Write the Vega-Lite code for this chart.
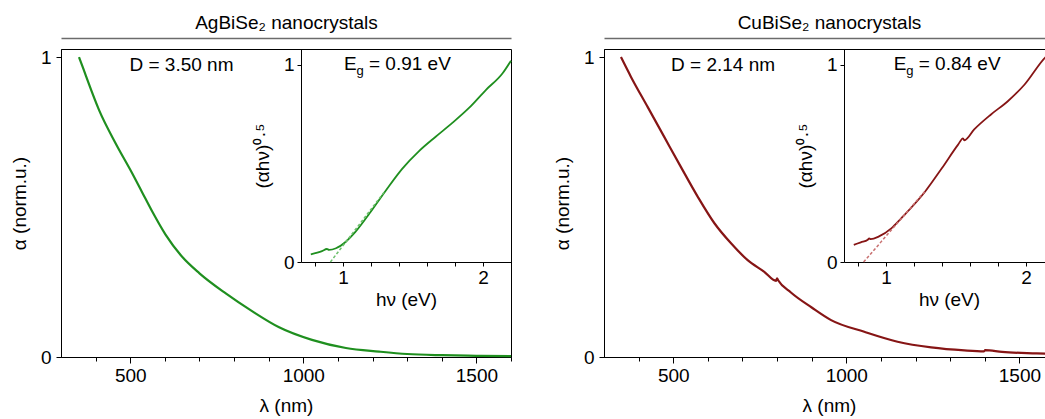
{
  "$schema": "https://vega.github.io/schema/vega-lite/v6.json",
  "padding": {"left": 9, "top": 12, "right": 0, "bottom": 0},
  "datasets": {
    "agMain": [
      {"wl": 352, "a": 1.0}, {"wl": 365, "a": 0.96}, {"wl": 380, "a": 0.912}, {"wl": 410, "a": 0.823},
      {"wl": 458, "a": 0.712}, {"wl": 506, "a": 0.612}, {"wl": 535, "a": 0.548}, {"wl": 564, "a": 0.484},
      {"wl": 602, "a": 0.408}, {"wl": 650, "a": 0.334}, {"wl": 700, "a": 0.279}, {"wl": 776, "a": 0.212},
      {"wl": 853, "a": 0.152}, {"wl": 930, "a": 0.099}, {"wl": 1025, "a": 0.057}, {"wl": 1123, "a": 0.03},
      {"wl": 1219, "a": 0.018}, {"wl": 1300, "a": 0.01}, {"wl": 1400, "a": 0.006}, {"wl": 1500, "a": 0.004},
      {"wl": 1600, "a": 0.003}
    ],
    "agInset": [
      {"hv": 0.77, "y": 0.039}, {"hv": 0.85, "y": 0.055}, {"hv": 0.885, "y": 0.066}, {"hv": 0.9, "y": 0.062},
      {"hv": 0.95, "y": 0.07}, {"hv": 1.02, "y": 0.103}, {"hv": 1.09, "y": 0.154}, {"hv": 1.19, "y": 0.247},
      {"hv": 1.305, "y": 0.362}, {"hv": 1.424, "y": 0.474}, {"hv": 1.543, "y": 0.563}, {"hv": 1.662, "y": 0.636},
      {"hv": 1.781, "y": 0.706}, {"hv": 1.9, "y": 0.782}, {"hv": 2.02, "y": 0.873}, {"hv": 2.14, "y": 0.958},
      {"hv": 2.2, "y": 1.022}
    ],
    "agFit": [{"hv": 0.91, "y": 0}, {"hv": 1.3, "y": 0.36}],
    "agText": [{"wl": 648, "a": 0.973, "label": "D = 3.50 nm"}],
    "agEg": [{"hv": 1.007, "y": 1.005, "label": "= 0.91 eV"}],
    "cuMain": [
      {"wl": 349, "a": 1.0}, {"wl": 378, "a": 0.934}, {"wl": 426, "a": 0.834}, {"wl": 474, "a": 0.734},
      {"wl": 522, "a": 0.634}, {"wl": 571, "a": 0.534}, {"wl": 619, "a": 0.446}, {"wl": 667, "a": 0.379},
      {"wl": 715, "a": 0.323}, {"wl": 763, "a": 0.284}, {"wl": 797, "a": 0.254}, {"wl": 800, "a": 0.262},
      {"wl": 803, "a": 0.256}, {"wl": 840, "a": 0.215}, {"wl": 900, "a": 0.165}, {"wl": 956, "a": 0.123},
      {"wl": 1052, "a": 0.084}, {"wl": 1148, "a": 0.051}, {"wl": 1245, "a": 0.032}, {"wl": 1341, "a": 0.022},
      {"wl": 1398, "a": 0.019}, {"wl": 1401, "a": 0.023}, {"wl": 1450, "a": 0.017}, {"wl": 1550, "a": 0.012},
      {"wl": 1600, "a": 0.01}
    ],
    "cuInset": [
      {"hv": 0.77, "y": 0.087}, {"hv": 0.82, "y": 0.1}, {"hv": 0.87, "y": 0.113}, {"hv": 0.88, "y": 0.12},
      {"hv": 0.89, "y": 0.116}, {"hv": 0.95, "y": 0.13}, {"hv": 1.04, "y": 0.172}, {"hv": 1.11, "y": 0.223},
      {"hv": 1.28, "y": 0.358}, {"hv": 1.4, "y": 0.477}, {"hv": 1.515, "y": 0.596}, {"hv": 1.55, "y": 0.628},
      {"hv": 1.56, "y": 0.618}, {"hv": 1.63, "y": 0.673}, {"hv": 1.75, "y": 0.749}, {"hv": 1.87, "y": 0.816},
      {"hv": 1.99, "y": 0.901}, {"hv": 2.14, "y": 1.04}, {"hv": 2.2, "y": 1.075}
    ],
    "cuFit": [{"hv": 0.84, "y": 0}, {"hv": 1.28, "y": 0.36}],
    "cuText": [{"wl": 644, "a": 0.973, "label": "D = 2.14 nm"}],
    "cuEg": [{"hv": 1.055, "y": 1.005, "label": "= 0.84 eV"}]
  },
  "hconcat": [
    {
      "width": 450, "height": 308,
      "layer": [
        {
          "data": {"name": "agMain"},
          "mark": {"type": "line", "color": "#1f8f1f", "strokeWidth": 2.2, "interpolate": "monotone"},
          "encoding": {
            "x": {"field": "wl", "type": "quantitative",
              "scale": {"domain": [300, 1600], "nice": false, "zero": false},
              "axis": {"orient": "bottom", "title": "λ (nm)", "values": [400, 500, 600, 700, 800, 900, 1000, 1100, 1200, 1300, 1400, 1500, 1600],
                "format": "d", "labelExpr": "datum.value % 500 === 0 ? datum.label : ''",
                "tickSize": {"condition": {"test": "datum.value % 500 === 0", "value": 6}, "value": 4},
                "labelPadding": 3, "titlePadding": 11, "labelFlush": false, "labelOverlap": false}},
            "y": {"field": "a", "type": "quantitative",
              "scale": {"domain": [0, 1.027], "nice": false, "zero": false},
              "axis": {"orient": "left", "title": "α (norm.u.)", "values": [0, 1], "format": "d", "tickSize": 5, "labelPadding": 5, "titlePadding": 11}}
          }
        },
        {
          "data": {"name": "agText"},
          "mark": {"type": "text", "align": "center", "baseline": "middle"},
          "encoding": {
            "x": {"field": "wl", "type": "quantitative",
              "scale": {"domain": [300, 1600], "nice": false, "zero": false},
              "axis": {"orient": "top", "offset": 11, "title": "AgBiSe₂ nanocrystals", "ticks": false, "labels": false,
                "domainColor": "#6b6b6b", "domainWidth": 1.5, "titlePadding": 6}},
            "y": {"field": "a", "type": "quantitative", "scale": {"domain": [0, 1.027], "nice": false, "zero": false}, "axis": null},
            "text": {"field": "label"}
          }
        },
        {
          "layer": [
            {
              "data": {"name": "agInset"},
              "mark": {"type": "line", "color": "#1f8f1f", "strokeWidth": 1.8, "interpolate": "monotone"},
              "encoding": {
                "x": {"field": "hv", "type": "quantitative",
                  "scale": {"domain": [0.7, 2.2], "range": [240, 450], "nice": false, "zero": false},
                  "axis": {"orient": "bottom", "offset": -95, "title": "hν (eV)",
                    "values": [0.8, 0.9, 1, 1.1, 1.2, 1.3, 1.4, 1.5, 1.6, 1.7, 1.8, 1.9, 2, 2.1, 2.2],
                    "labelExpr": "datum.value === 1 ? '1' : (datum.value === 2 ? '2' : '')",
                    "tickSize": 4, "labelPadding": 2, "titlePadding": 3, "labelFlush": false, "labelOverlap": false}},
                "y": {"field": "y", "type": "quantitative",
                  "scale": {"domain": [0, 1.0812], "range": [213, 0], "nice": false, "zero": false},
                  "axis": {"orient": "left", "offset": -240, "title": "(αhν)⁰·⁵", "values": [0, 1], "format": "d",
                    "tickSize": 4, "labelPadding": 3, "titlePadding": 11}}
              }
            },
            {
              "data": {"name": "agFit"},
              "mark": {"type": "line", "color": "#6cc06c", "strokeWidth": 1.5, "strokeDash": [3, 2]},
              "encoding": {
                "x": {"field": "hv", "type": "quantitative"},
                "y": {"field": "y", "type": "quantitative"}
              }
            },
            {
              "data": {"name": "agEg"},
              "mark": {"type": "text", "align": "left", "baseline": "middle", "text": "E"},
              "encoding": {"x": {"field": "hv", "type": "quantitative"}, "y": {"field": "y", "type": "quantitative"}}
            },
            {
              "data": {"name": "agEg"},
              "mark": {"type": "text", "align": "left", "baseline": "middle", "text": "g", "fontSize": 13, "dx": 12.5, "dy": 7},
              "encoding": {"x": {"field": "hv", "type": "quantitative"}, "y": {"field": "y", "type": "quantitative"}}
            },
            {
              "data": {"name": "agEg"},
              "mark": {"type": "text", "align": "left", "baseline": "middle", "dx": 25},
              "encoding": {"x": {"field": "hv", "type": "quantitative"}, "y": {"field": "y", "type": "quantitative"}, "text": {"field": "label"}}
            }
          ]
        }
      ],
      "resolve": {"scale": {"x": "independent", "y": "independent"}, "axis": {"x": "independent", "y": "independent"}}
    },
    {
      "width": 450, "height": 308,
      "layer": [
        {
          "data": {"name": "cuMain"},
          "mark": {"type": "line", "color": "#861515", "strokeWidth": 2.2, "interpolate": "monotone"},
          "encoding": {
            "x": {"field": "wl", "type": "quantitative",
              "scale": {"domain": [300, 1600], "nice": false, "zero": false},
              "axis": {"orient": "bottom", "title": "λ (nm)", "values": [400, 500, 600, 700, 800, 900, 1000, 1100, 1200, 1300, 1400, 1500, 1600],
                "format": "d", "labelExpr": "datum.value % 500 === 0 ? datum.label : ''",
                "tickSize": {"condition": {"test": "datum.value % 500 === 0", "value": 6}, "value": 4},
                "labelPadding": 3, "titlePadding": 11, "labelFlush": false, "labelOverlap": false}},
            "y": {"field": "a", "type": "quantitative",
              "scale": {"domain": [0, 1.027], "nice": false, "zero": false},
              "axis": {"orient": "left", "title": "α (norm.u.)", "values": [0, 1], "format": "d", "tickSize": 5, "labelPadding": 5, "titlePadding": 11}}
          }
        },
        {
          "data": {"name": "cuText"},
          "mark": {"type": "text", "align": "center", "baseline": "middle"},
          "encoding": {
            "x": {"field": "wl", "type": "quantitative",
              "scale": {"domain": [300, 1600], "nice": false, "zero": false},
              "axis": {"orient": "top", "offset": 11, "title": "CuBiSe₂ nanocrystals", "ticks": false, "labels": false,
                "domainColor": "#6b6b6b", "domainWidth": 1.5, "titlePadding": 6}},
            "y": {"field": "a", "type": "quantitative", "scale": {"domain": [0, 1.027], "nice": false, "zero": false}, "axis": null},
            "text": {"field": "label"}
          }
        },
        {
          "layer": [
            {
              "data": {"name": "cuInset"},
              "mark": {"type": "line", "color": "#861515", "strokeWidth": 1.8, "interpolate": "monotone"},
              "encoding": {
                "x": {"field": "hv", "type": "quantitative",
                  "scale": {"domain": [0.7, 2.2], "range": [240, 450], "nice": false, "zero": false},
                  "axis": {"orient": "bottom", "offset": -95, "title": "hν (eV)",
                    "values": [0.8, 0.9, 1, 1.1, 1.2, 1.3, 1.4, 1.5, 1.6, 1.7, 1.8, 1.9, 2, 2.1, 2.2],
                    "labelExpr": "datum.value === 1 ? '1' : (datum.value === 2 ? '2' : '')",
                    "tickSize": 4, "labelPadding": 2, "titlePadding": 3, "labelFlush": false, "labelOverlap": false}},
                "y": {"field": "y", "type": "quantitative",
                  "scale": {"domain": [0, 1.0812], "range": [213, 0], "nice": false, "zero": false},
                  "axis": {"orient": "left", "offset": -240, "title": "(αhν)⁰·⁵", "values": [0, 1], "format": "d",
                    "tickSize": 4, "labelPadding": 3, "titlePadding": 11}}
              }
            },
            {
              "data": {"name": "cuFit"},
              "mark": {"type": "line", "color": "#c87070", "strokeWidth": 1.5, "strokeDash": [3, 2]},
              "encoding": {
                "x": {"field": "hv", "type": "quantitative"},
                "y": {"field": "y", "type": "quantitative"}
              }
            },
            {
              "data": {"name": "cuEg"},
              "mark": {"type": "text", "align": "left", "baseline": "middle", "text": "E"},
              "encoding": {"x": {"field": "hv", "type": "quantitative"}, "y": {"field": "y", "type": "quantitative"}}
            },
            {
              "data": {"name": "cuEg"},
              "mark": {"type": "text", "align": "left", "baseline": "middle", "text": "g", "fontSize": 13, "dx": 12.5, "dy": 7},
              "encoding": {"x": {"field": "hv", "type": "quantitative"}, "y": {"field": "y", "type": "quantitative"}}
            },
            {
              "data": {"name": "cuEg"},
              "mark": {"type": "text", "align": "left", "baseline": "middle", "dx": 25},
              "encoding": {"x": {"field": "hv", "type": "quantitative"}, "y": {"field": "y", "type": "quantitative"}, "text": {"field": "label"}}
            }
          ]
        }
      ],
      "resolve": {"scale": {"x": "independent", "y": "independent"}, "axis": {"x": "independent", "y": "independent"}}
    }
  ],
  "spacing": 36,
  "config": {
    "font": "Liberation Sans",
    "view": {"stroke": "black", "strokeWidth": 1},
    "axis": {"grid": false, "domainColor": "black", "tickColor": "black", "labelColor": "black", "titleColor": "black",
      "labelFontSize": 19, "titleFontSize": 19, "titleFontWeight": "normal", "labelFont": "Liberation Sans", "titleFont": "Liberation Sans"},
    "text": {"font": "Liberation Sans", "fontSize": 19, "color": "black"}
  }
}
